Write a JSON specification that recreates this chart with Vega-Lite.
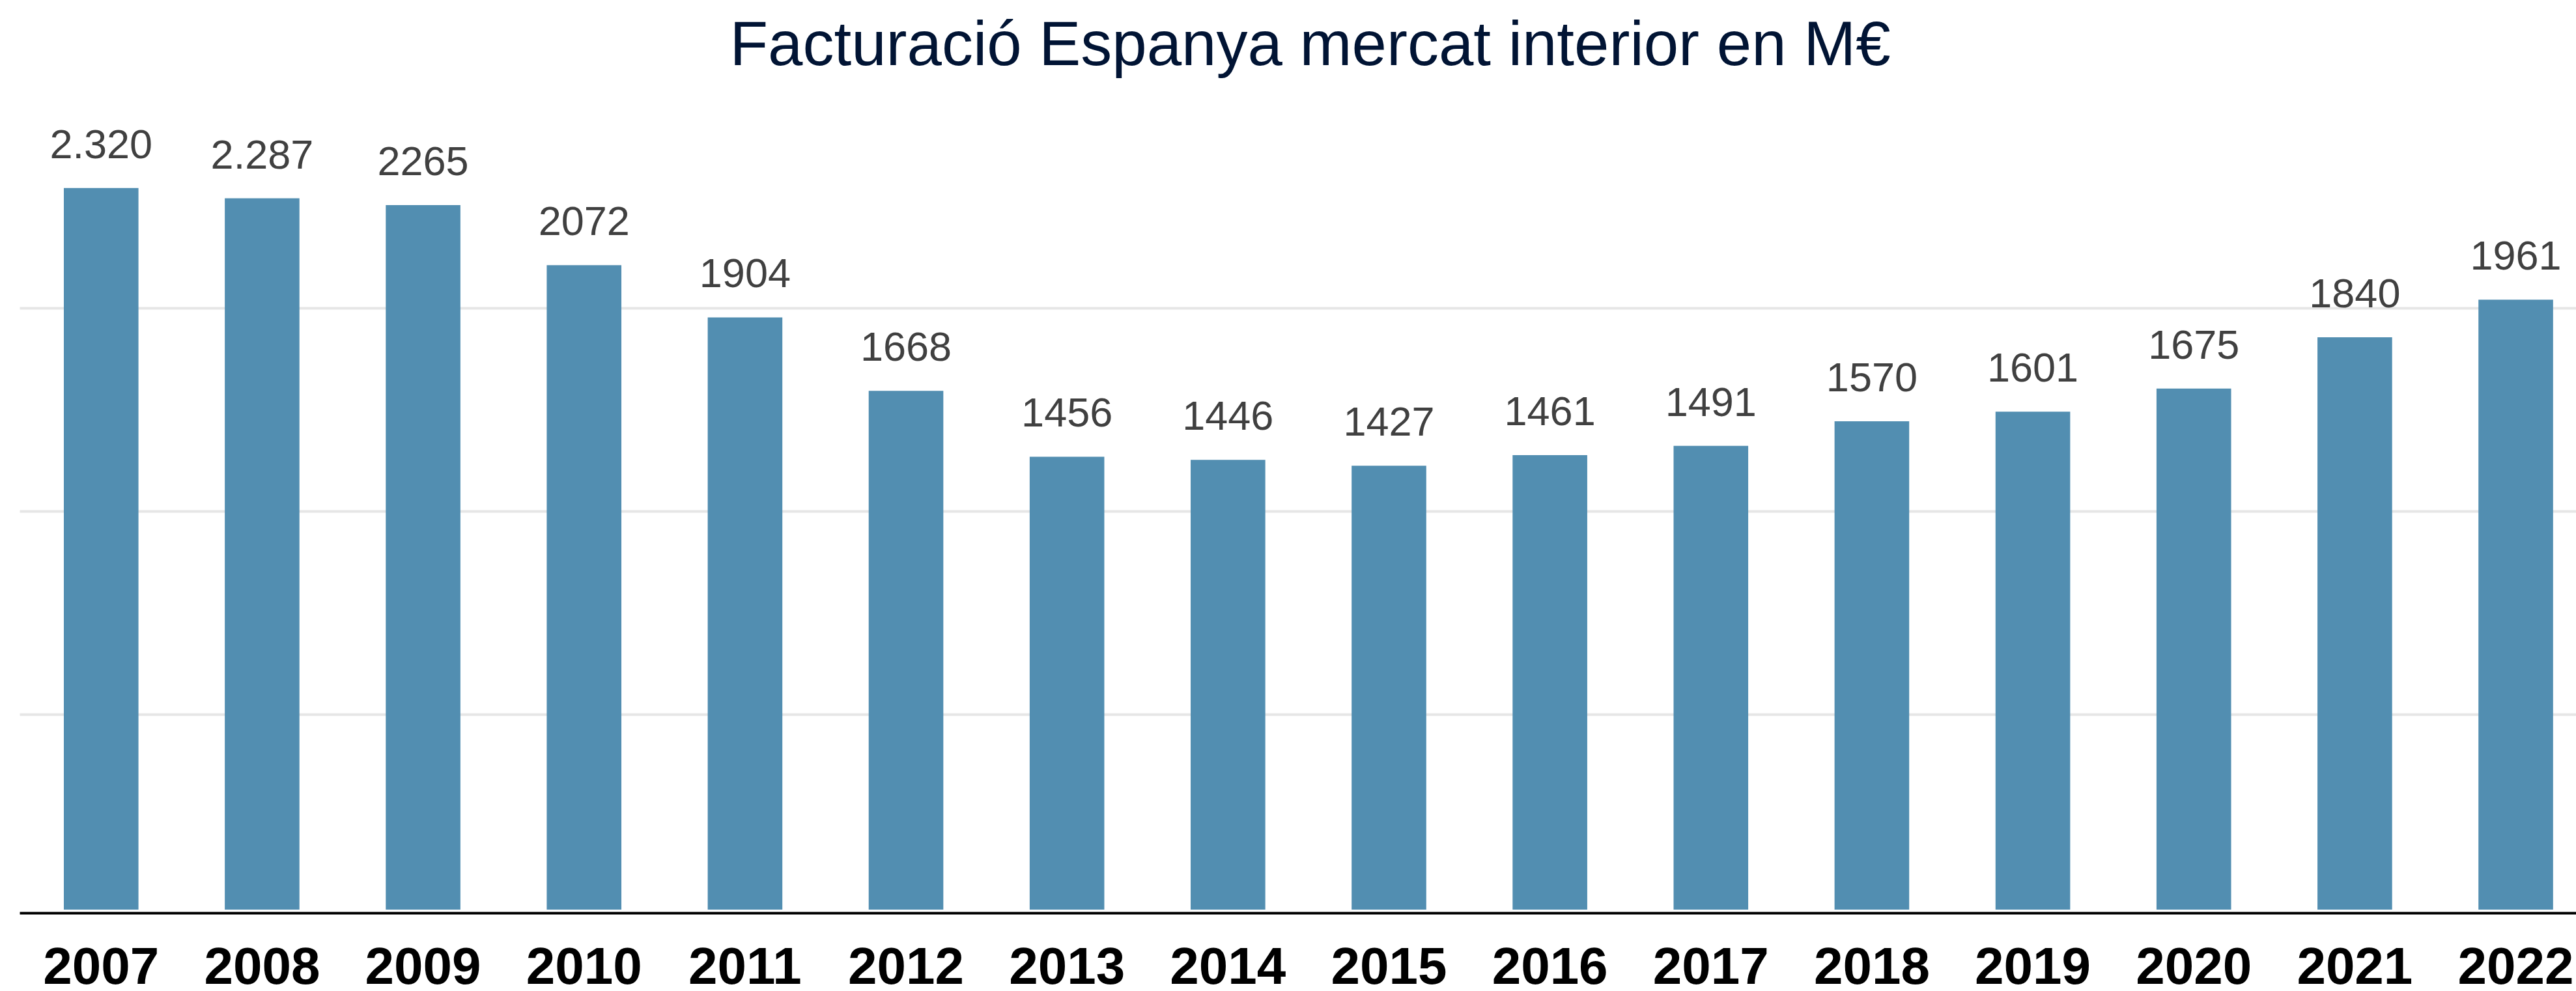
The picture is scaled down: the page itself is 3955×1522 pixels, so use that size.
{
  "$schema": "https://vega.github.io/schema/vega-lite/v6.json",
  "width": 3925,
  "height": 1242,
  "autosize": {"type": "none"},
  "padding": {"left": 30, "top": 155, "right": 0, "bottom": 125},
  "background": "white",
  "title": {
    "text": "Facturació Espanya mercat interior en M€",
    "font": "Liberation Sans",
    "fontSize": 96,
    "fontWeight": "normal",
    "color": "#011434",
    "anchor": "middle",
    "frame": "group",
    "baseline": "alphabetic",
    "offset": -41,
    "dx": 19
  },
  "config": {"view": {"stroke": null}},
  "data": {
    "values": [
      {"year": "2007", "value": 2320, "label": "2.320"},
      {"year": "2008", "value": 2287, "label": "2.287"},
      {"year": "2009", "value": 2265, "label": "2265"},
      {"year": "2010", "value": 2072, "label": "2072"},
      {"year": "2011", "value": 1904, "label": "1904"},
      {"year": "2012", "value": 1668, "label": "1668"},
      {"year": "2013", "value": 1456, "label": "1456"},
      {"year": "2014", "value": 1446, "label": "1446"},
      {"year": "2015", "value": 1427, "label": "1427"},
      {"year": "2016", "value": 1461, "label": "1461"},
      {"year": "2017", "value": 1491, "label": "1491"},
      {"year": "2018", "value": 1570, "label": "1570"},
      {"year": "2019", "value": 1601, "label": "1601"},
      {"year": "2020", "value": 1675, "label": "1675"},
      {"year": "2021", "value": 1840, "label": "1840"},
      {"year": "2022", "value": 1961, "label": "1961"}
    ]
  },
  "encoding": {
    "x": {
      "field": "year",
      "type": "ordinal",
      "scale": {"paddingInner": 0.5363, "paddingOuter": 0.2087, "align": 0.659},
      "axis": {
        "title": null,
        "domain": true,
        "domainColor": "#000000",
        "domainWidth": 4,
        "ticks": false,
        "tickSize": 0,
        "grid": false,
        "offset": 5,
        "labelAngle": 0,
        "labelFont": "Liberation Sans",
        "labelFontSize": 80,
        "labelFontWeight": "bold",
        "labelColor": "#000000",
        "labelBaseline": "alphabetic",
        "labelPadding": 108
      }
    },
    "y": {
      "field": "value",
      "type": "quantitative",
      "scale": {"domain": [0, 2600], "nice": false},
      "axis": {
        "title": null,
        "values": [629, 1281, 1934],
        "grid": true,
        "gridColor": "#e6e6e6",
        "gridWidth": 4,
        "domain": false,
        "ticks": false,
        "labels": false
      }
    }
  },
  "layer": [
    {"mark": {"type": "bar", "color": "#528eb1"}},
    {
      "mark": {
        "type": "text",
        "font": "Liberation Sans",
        "fontSize": 63,
        "color": "#404040",
        "baseline": "alphabetic",
        "align": "center",
        "dy": -46
      },
      "encoding": {"text": {"field": "label"}}
    }
  ]
}
